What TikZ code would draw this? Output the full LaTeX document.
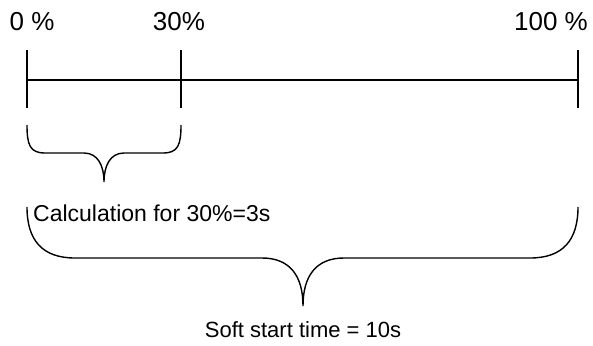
\documentclass[tikz,border=0pt]{standalone}
\usepackage{fontspec}
\setmainfont{Liberation Sans}
\begin{document}
\begin{tikzpicture}[x=1pt,y=-1pt,
  lbl/.style={inner sep=0pt,font=\fontsize{23}{26}\selectfont},
  toplbl/.style={inner sep=0pt,font=\fontsize{26}{29}\selectfont},
  tick/.style={line width=1.8pt},
  axis/.style={line width=1.4pt},
  brace/.style={line width=1.4pt}]
\useasboundingbox (0,0) rectangle (593,345);
% labels
\node[toplbl] (p0) at (32,22) {0 \%};
\node[toplbl] (p30) at (179,22) {30\%};
\node[toplbl] (p100) at (551,22) {100 \%};
% ticks
\coordinate (t0a) at (27,50);  \coordinate (t0b) at (27,108);
\coordinate (t30a) at (181,50); \coordinate (t30b) at (181,108);
\coordinate (t100a) at (578,50); \coordinate (t100b) at (578,108);
\coordinate (m0) at (27,80); \coordinate (m100) at (578,80);
\draw[tick] (t0a) -- (t0b);
\draw[tick] (t30a) -- (t30b);
\draw[tick] (t100a) -- (t100b);
\draw[axis] (m0) -- (m100);
% small brace
\coordinate (sb0) at (27,125); \coordinate (sb1) at (181,125); \coordinate (sbt) at (104,182);
\draw[brace] (sb0) .. controls (27,145) and (30,153) .. (45,153) -- (84,153)
  .. controls (98,153) and (104,166) .. (sbt)
  .. controls (104,166) and (110,153) .. (124,153) -- (163,153)
  .. controls (178,153) and (181,145) .. (sb1);
% big brace
\coordinate (bb0) at (27,207); \coordinate (bb1) at (578,207); \coordinate (bbt) at (303,306);
\draw[brace] (bb0) .. controls (27,240) and (42,258) .. (75,258) -- (262,258)
  .. controls (290,258) and (303,276) .. (bbt)
  .. controls (303,276) and (316,258) .. (344,258) -- (530,258)
  .. controls (563,258) and (578,240) .. (bb1);
% texts
\node[lbl,anchor=west] (calc) at (33,213) {Calculation for 30\%=3s};
\node[lbl,font=\fontsize{22}{25}\selectfont] (soft) at (303,330) {Soft start time = 10s};
\end{tikzpicture}
\end{document}
